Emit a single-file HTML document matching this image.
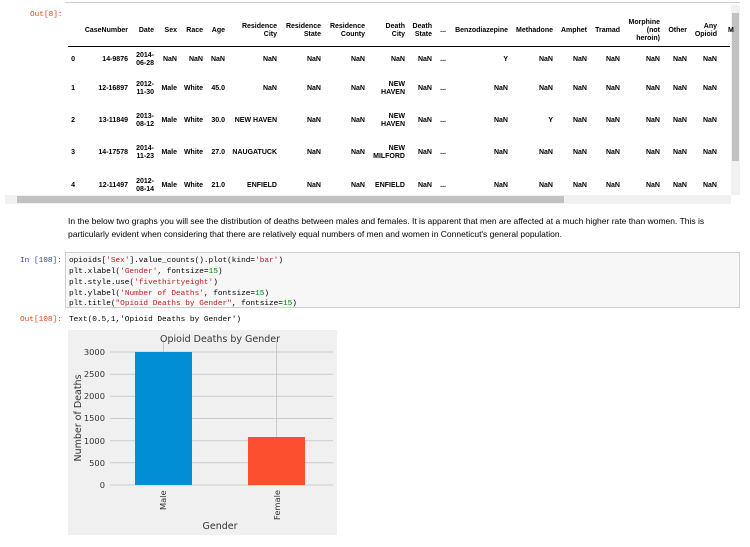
<!DOCTYPE html>
<html><head><meta charset="utf-8"><style>
body{margin:0;background:#fff;width:750px;height:547px;overflow:hidden}
svg{display:block}
.h{font:bold 7px "Liberation Sans",sans-serif;fill:#000}
.c{font:bold 7px "Liberation Sans",sans-serif;fill:#000}
.m{font:7.75px "Liberation Mono",monospace}
</style></head><body>
<svg width="750" height="547" viewBox="0 0 750 547" xmlns="http://www.w3.org/2000/svg">
<line x1="65" y1="2.5" x2="740" y2="2.5" stroke="#cfcfcf"/>
<text x="30" y="16" class="m" fill="#d84315">Out[8]:</text>
<rect x="731" y="5" width="9" height="190" fill="#f1f1f1"/>
<rect x="732" y="13" width="7" height="148" fill="#c1c1c1"/>
<g class="h" text-anchor="end">
<text x="128" y="32">CaseNumber</text>
<text x="154" y="32">Date</text>
<text x="177" y="32">Sex</text>
<text x="203" y="32">Race</text>
<text x="225" y="32">Age</text>
<text x="277" y="28">Residence</text><text x="277" y="36">City</text>
<text x="321" y="28">Residence</text><text x="321" y="36">State</text>
<text x="365" y="28">Residence</text><text x="365" y="36">County</text>
<text x="405" y="28">Death</text><text x="405" y="36">City</text>
<text x="432" y="28">Death</text><text x="432" y="36">State</text>
<text x="446" y="32">...</text>
<text x="508" y="32">Benzodiazepine</text>
<text x="553" y="32">Methadone</text>
<text x="587" y="32">Amphet</text>
<text x="620" y="32">Tramad</text>
<text x="660" y="24">Morphine</text><text x="660" y="32">(not</text><text x="660" y="40">heroin)</text>
<text x="687" y="32">Other</text>
<text x="717" y="28">Any</text><text x="717" y="36">Opioid</text>
<text x="728" y="32" text-anchor="start">M</text>
</g>
<line x1="68" y1="46.5" x2="730" y2="46.5" stroke="#000"/>
<g class="c" text-anchor="end">
<text x="75" y="61">0</text><text x="75" y="90">1</text><text x="75" y="122">2</text><text x="75" y="154">3</text><text x="75" y="187">4</text>
<text x="128" y="61">14-9876</text><text x="128" y="90">12-16897</text><text x="128" y="122">13-11849</text><text x="128" y="154">14-17578</text><text x="128" y="187">12-11497</text>
<text x="154" y="57">2014-</text><text x="154" y="65">06-28</text>
<text x="154" y="86">2012-</text><text x="154" y="94">11-30</text>
<text x="154" y="118">2013-</text><text x="154" y="126">08-12</text>
<text x="154" y="150">2014-</text><text x="154" y="158">11-23</text>
<text x="154" y="183">2012-</text><text x="154" y="191">08-14</text>
<text x="177" y="61">NaN</text><text x="177" y="90">Male</text><text x="177" y="122">Male</text><text x="177" y="154">Male</text><text x="177" y="187">Male</text>
<text x="203" y="61">NaN</text><text x="203" y="90">White</text><text x="203" y="122">White</text><text x="203" y="154">White</text><text x="203" y="187">White</text>
<text x="225" y="61">NaN</text><text x="225" y="90">45.0</text><text x="225" y="122">30.0</text><text x="225" y="154">27.0</text><text x="225" y="187">21.0</text>
<text x="277" y="61">NaN</text><text x="277" y="90">NaN</text><text x="277" y="122">NEW HAVEN</text><text x="277" y="154">NAUGATUCK</text><text x="277" y="187">ENFIELD</text>
<text x="321" y="61">NaN</text><text x="321" y="90">NaN</text><text x="321" y="122">NaN</text><text x="321" y="154">NaN</text><text x="321" y="187">NaN</text>
<text x="365" y="61">NaN</text><text x="365" y="90">NaN</text><text x="365" y="122">NaN</text><text x="365" y="154">NaN</text><text x="365" y="187">NaN</text>
<text x="405" y="61">NaN</text>
<text x="405" y="86">NEW</text><text x="405" y="94">HAVEN</text>
<text x="405" y="118">NEW</text><text x="405" y="126">HAVEN</text>
<text x="405" y="150">NEW</text><text x="405" y="158">MILFORD</text>
<text x="405" y="187">ENFIELD</text>
<text x="432" y="61">NaN</text><text x="432" y="90">NaN</text><text x="432" y="122">NaN</text><text x="432" y="154">NaN</text><text x="432" y="187">NaN</text>
<text x="446" y="61">...</text><text x="446" y="90">...</text><text x="446" y="122">...</text><text x="446" y="154">...</text><text x="446" y="187">...</text>
<text x="508" y="61">Y</text><text x="508" y="90">NaN</text><text x="508" y="122">NaN</text><text x="508" y="154">NaN</text><text x="508" y="187">NaN</text>
<text x="553" y="61">NaN</text><text x="553" y="90">NaN</text><text x="553" y="122">Y</text><text x="553" y="154">NaN</text><text x="553" y="187">NaN</text>
<text x="587" y="61">NaN</text><text x="587" y="90">NaN</text><text x="587" y="122">NaN</text><text x="587" y="154">NaN</text><text x="587" y="187">NaN</text>
<text x="620" y="61">NaN</text><text x="620" y="90">NaN</text><text x="620" y="122">NaN</text><text x="620" y="154">NaN</text><text x="620" y="187">NaN</text>
<text x="660" y="61">NaN</text><text x="660" y="90">NaN</text><text x="660" y="122">NaN</text><text x="660" y="154">NaN</text><text x="660" y="187">NaN</text>
<text x="687" y="61">NaN</text><text x="687" y="90">NaN</text><text x="687" y="122">NaN</text><text x="687" y="154">NaN</text><text x="687" y="187">NaN</text>
<text x="717" y="61">NaN</text><text x="717" y="90">NaN</text><text x="717" y="122">NaN</text><text x="717" y="154">NaN</text><text x="717" y="187">NaN</text>
</g>
<rect x="5" y="195" width="726" height="9" fill="#f1f1f1"/>
<rect x="17" y="196" width="547" height="7" fill="#c1c1c1"/>
<g font-family="Liberation Sans, sans-serif" font-size="8.5" fill="#000">
<text x="68" y="224">In the below two graphs you will see the distribution of deaths between males and females. It is apparent that men are affected at a much higher rate than women. This is</text>
<text x="68" y="237">particularly evident when considering that there are relatively equal numbers of men and women in Conneticut's general population.</text>
</g>
<text x="20" y="262" class="m" fill="#303f9f">In [108]:</text>
<rect x="65.5" y="252.5" width="674" height="55" fill="#f7f7f7" stroke="#cfcfcf"/>
<g class="m" fill="#000">
<text x="69" y="262">opioids[<tspan fill="#ba2121">'Sex'</tspan>].value_counts().plot(kind=<tspan fill="#ba2121">'bar'</tspan>)</text>
<text x="69" y="273">plt.xlabel(<tspan fill="#ba2121">'Gender'</tspan>, fontsize=<tspan fill="#080">15</tspan>)</text>
<text x="69" y="284">plt.style.use(<tspan fill="#ba2121">'fivethirtyeight'</tspan>)</text>
<text x="69" y="295">plt.ylabel(<tspan fill="#ba2121">'Number of Deaths'</tspan>, fontsize=<tspan fill="#080">15</tspan>)</text>
<text x="69" y="305">plt.title(<tspan fill="#ba2121">"Opioid Deaths by Gender"</tspan>, fontsize=<tspan fill="#080">15</tspan>)</text>
</g>
<text x="20" y="321" class="m" fill="#d84315">Out[108]:</text>
<text x="69" y="321" class="m" fill="#000">Text(0.5,1,'Opioid Deaths by Gender')</text>
<rect x="68" y="330" width="269" height="205" fill="#f0f0f0"/>
<g stroke="#cbcbcb" stroke-width="1">
<line x1="110" y1="352" x2="333" y2="352"/>
<line x1="110" y1="374.2" x2="333" y2="374.2"/>
<line x1="110" y1="396.3" x2="333" y2="396.3"/>
<line x1="110" y1="418.5" x2="333" y2="418.5"/>
<line x1="110" y1="440.7" x2="333" y2="440.7"/>
<line x1="110" y1="462.8" x2="333" y2="462.8"/>
<line x1="110" y1="485" x2="333" y2="485"/>
<line x1="163.5" y1="340" x2="163.5" y2="485"/>
<line x1="276.5" y1="340" x2="276.5" y2="485"/>
</g>
<rect x="135" y="352" width="57" height="133" fill="#008fd5"/>
<rect x="248" y="437" width="57" height="48" fill="#fc4f30"/>
<g font-family="DejaVu Sans, sans-serif" fill="#333" font-size="8.3">
<text x="220" y="342" text-anchor="middle" font-size="9.5">Opioid Deaths by Gender</text>
<g text-anchor="end">
<text x="105" y="355">3000</text><text x="105" y="377">2500</text><text x="105" y="399">2000</text><text x="105" y="421">1500</text><text x="105" y="444">1000</text><text x="105" y="466">500</text><text x="105" y="488">0</text>
</g>
<text transform="translate(166,510) rotate(-90)" text-anchor="start">Male</text>
<text transform="translate(280,520) rotate(-90)" text-anchor="start">Female</text>
<text x="220" y="529" text-anchor="middle" font-size="9.5">Gender</text>
<text transform="translate(81,418) rotate(-90)" text-anchor="middle" font-size="9.5">Number of Deaths</text>
</g>
</svg>
</body></html>
